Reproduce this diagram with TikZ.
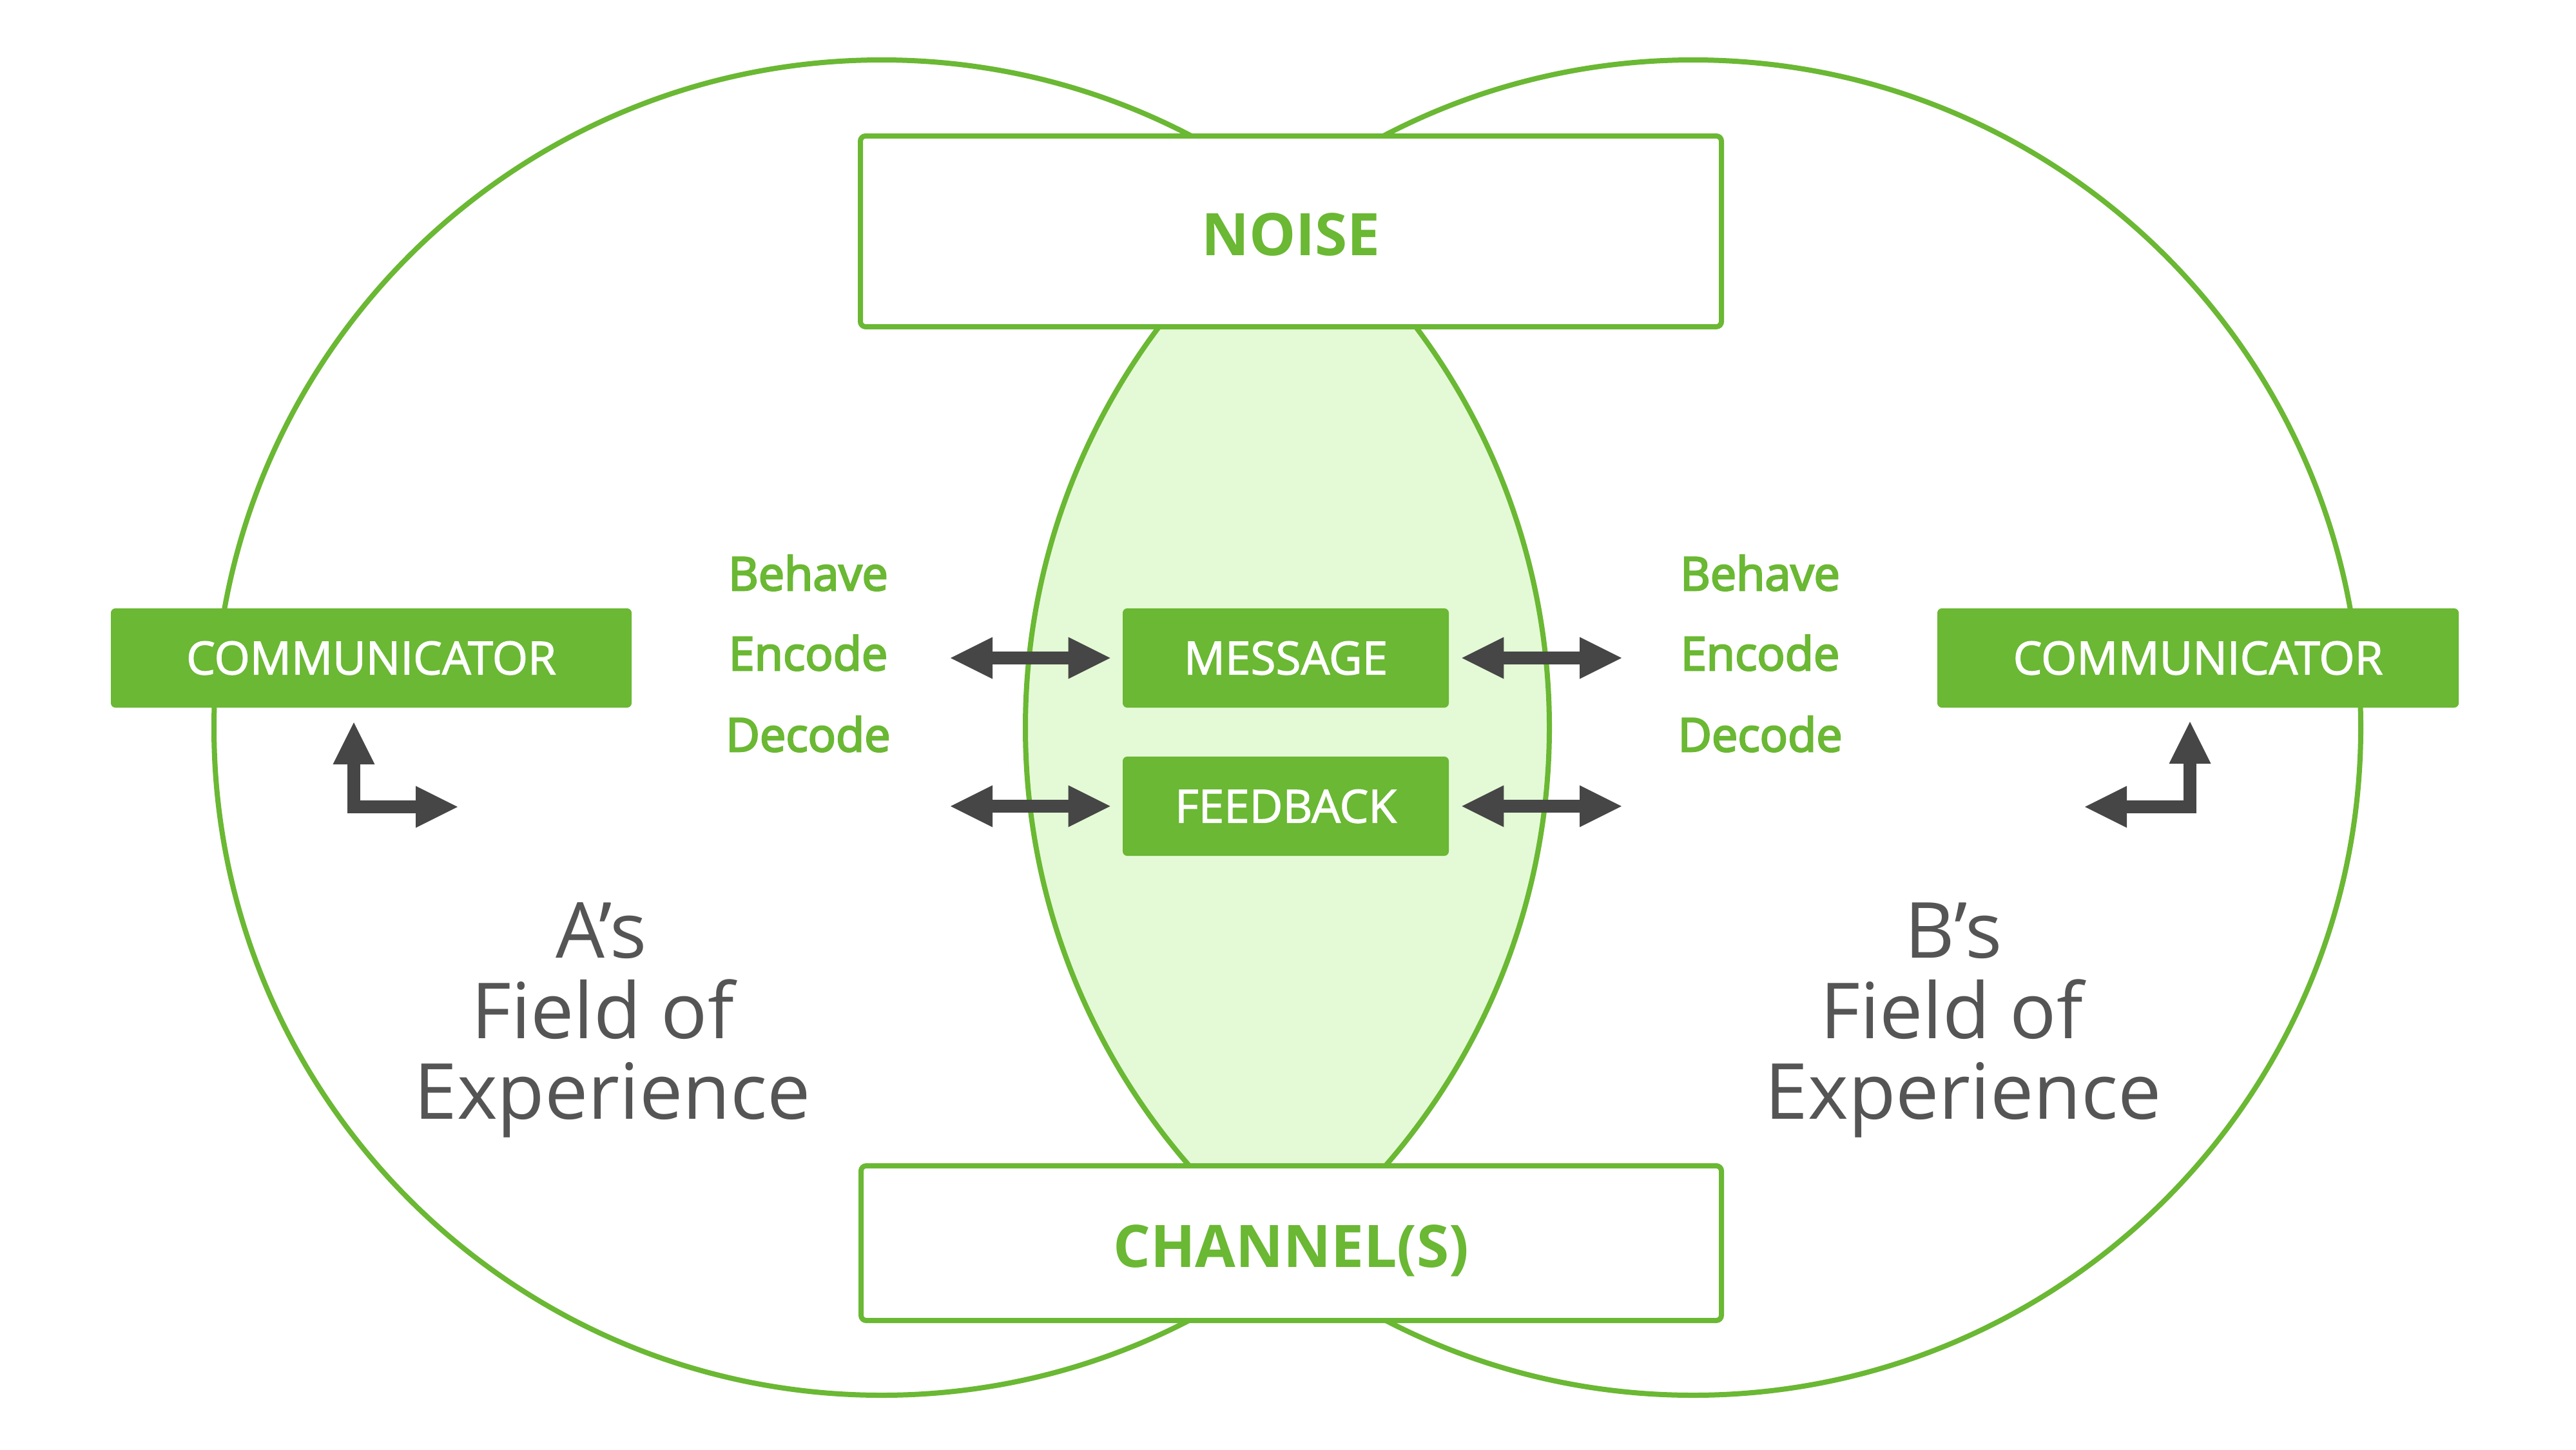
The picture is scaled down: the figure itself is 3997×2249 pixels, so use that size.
\documentclass[tikz,border=0pt]{standalone}
\usepackage{fontspec}
\setmainfont{Open Sans}
\newfontfamily\semibfont{Open Sans}[FakeBold=3.5]
\newfontfamily\medfont{Open Sans}[FakeBold=1.8]
\usetikzlibrary{arrows.meta}
\definecolor{grn}{RGB}{106,184,51}
\definecolor{lensc}{RGB}{228,250,214}
\definecolor{arr}{RGB}{70,70,70}
\definecolor{txt}{RGB}{85,85,85}
\tikzset{
  circ/.style={draw=grn, line width=4pt},
  greenbox/.style={fill=grn, rounded corners=3.5pt, minimum height=77pt, inner sep=0pt,
    text=white, font=\medfont\fontsize{35.5pt}{40pt}\selectfont, text height=25.5pt, text depth=0pt},
  outlinebox/.style={draw=grn, line width=4pt, fill=white, rounded corners=4pt, inner sep=0pt,
    text=grn, font=\bfseries\fontsize{45.5pt}{50pt}\selectfont, text height=37pt, text depth=0pt},
  steplbl/.style={text=grn, font=\semibfont\fontsize{36pt}{40pt}\selectfont, inner sep=0pt, anchor=base},
  fieldlbl/.style={text=txt, font=\fontsize{60pt}{62.5pt}\selectfont, inner sep=0pt, anchor=base},
  tipshape/.tip={Triangle[length=32.5pt,width=32.5pt,line width=0pt]},
  dblarrow/.style={draw=arr, line width=10pt, line join=miter, tipshape-tipshape}
}
\begin{document}
\begin{tikzpicture}[x=0.5pt,y=-0.5pt]
\fill[white] (0,0) rectangle (3997,2249);
\useasboundingbox (0,0) rectangle (3997,2249);
\coordinate (cA) at (1368,1129);
\coordinate (cB) at (2627,1129);
% lens
\begin{scope}
  \clip (cA) circle[radius=518pt];
  \fill[lensc] (cB) circle[radius=518pt];
\end{scope}
\draw[circ] (cA) circle[radius=518pt];
\draw[circ] (cB) circle[radius=518pt];
% outline boxes
\node[outlinebox, minimum width=668pt, minimum height=148pt] (noise) at (2003,359) {NOISE};
\node[outlinebox, minimum width=667.5pt, minimum height=120pt] (chan) at (2003.5,1929) {CHANNEL(S)};
% green boxes
\node[greenbox, minimum width=404pt] (comA) at (576,1021) {COMMUNICATOR};
\node[greenbox, minimum width=404.5pt] (comB) at (3410.5,1021) {COMMUNICATOR};
\node[greenbox, minimum width=253pt] (msg) at (1995,1021) {MESSAGE};
\node[greenbox, minimum width=253pt] (fb) at (1995,1251) {FEEDBACK};
% arrow end points
\coordinate (mL) at (1475,1021);
\coordinate (mR) at (2516,1021);
\coordinate (fL) at (1475,1251);
\coordinate (fR) at (2516,1251);
\draw[dblarrow, shorten >=9.5pt] (mL) -- (msg.west);
\draw[dblarrow, shorten <=10pt] (msg.east) -- (mR);
\draw[dblarrow, shorten >=9.5pt] (fL) -- (fb.west);
\draw[dblarrow, shorten <=10pt] (fb.east) -- (fR);
% elbow arrows
\coordinate (eAtop) at (549,1121);
\coordinate (eAend) at (710,1252);
\coordinate (eBtop) at (3398,1120);
\coordinate (eBend) at (3235,1252);
\draw[dblarrow] (eAtop) |- (eAend);
\draw[dblarrow] (eBtop) |- (eBend);
% step labels
\node[steplbl] (behA) at (1254,916) {Behave};
\node[steplbl] (encA) at (1254,1040) {Encode};
\node[steplbl] (decA) at (1254,1166) {Decode};
\node[steplbl] (behB) at (2731,916) {Behave};
\node[steplbl] (encB) at (2731,1040) {Encode};
\node[steplbl] (decB) at (2731,1166) {Decode};
% fields of experience
\node[fieldlbl] (fA1) at (933,1486) {A’s};
\node[fieldlbl] (fA2) at (935,1611) {Field of};
\node[fieldlbl] (fA3) at (950,1736) {Experience};
\node[fieldlbl] (fB1) at (3031,1486) {B’s};
\node[fieldlbl] (fB2) at (3028,1611) {Field of};
\node[fieldlbl] (fB3) at (3046,1736) {Experience};
\end{tikzpicture}
\end{document}
